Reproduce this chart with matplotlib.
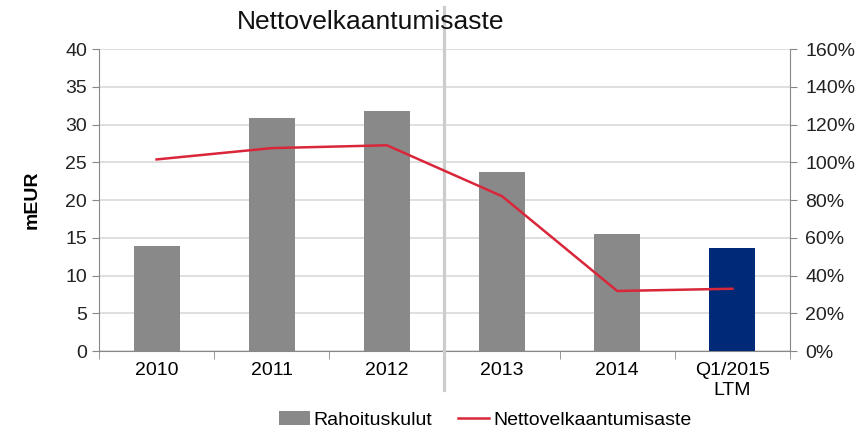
import matplotlib
matplotlib.use("Agg")
import matplotlib.pyplot as plt
import numpy as np

plt.rcParams['font.family'] = ['Liberation Sans', 'DejaVu Sans']

# data
categories = ['2010', '2011', '2012', '2013', '2014', 'Q1/2015\nLTM']
rahoituskulut = [13.9, 30.9, 31.8, 23.7, 15.5, 13.6]          # mEUR
nettovelka = [101.5, 107.5, 109.0, 82.0, 31.8, 33.0]          # %
bar_colors = ['#898989'] * 5 + ['#002A78']

fig = plt.figure(figsize=(8.63, 4.30), dpi=100)
ax = fig.add_axes([0.1147, 0.1837, 0.8007, 0.7023])
x = np.arange(len(categories))

ax.bar(x, rahoituskulut, width=0.4, color=bar_colors, zorder=3, label='Rahoituskulut')
ax.set_xlim(-0.5, len(categories) - 0.5)
ax.set_ylim(0, 40)
ax.set_yticks(np.arange(0, 41, 5))
ax.set_ylabel('mEUR', fontsize=14, fontweight='bold', labelpad=18)
ax.grid(axis='y', color='#d9d9d9', linewidth=1.2, zorder=0)

# category labels in the middle, tick marks on the boundaries
ax.set_xticks(x)
ax.set_xticklabels(categories, fontsize=14)
ax.tick_params(axis='x', which='major', length=0, pad=8)
ax.set_xticks(np.arange(-0.5, len(categories), 1), minor=True)
ax.tick_params(axis='x', which='minor', length=6, color='#888888', direction='out')
ax.tick_params(axis='y', labelsize=14, length=5, color='#888888')
for lbl in ax.get_yticklabels():
    lbl.set_color('#222222')

for side in ['top', 'right']:
    ax.spines[side].set_visible(False)
for side in ['left', 'bottom']:
    ax.spines[side].set_color('#888888')

ax2 = ax.twinx()
ax2.plot(x, nettovelka, color='#D9263A', linewidth=1.8, zorder=4, label='Nettovelkaantumisaste')
ax2.set_ylim(0, 160)
ax2.set_yticks(np.arange(0, 161, 20))
ax2.set_yticklabels([f'{v}%' for v in range(0, 161, 20)])
ax2.tick_params(axis='y', labelsize=14, length=5, color='#888888', pad=6)
for lbl in ax2.get_yticklabels():
    lbl.set_color('#222222')
for side in ['top', 'left', 'bottom']:
    ax2.spines[side].set_visible(False)
ax2.spines['right'].set_color('#888888')

# separator between actuals
ax.axvline(2.5, ymin=-0.13, ymax=1.14, color='#cccccc', linewidth=2.3, clip_on=False, zorder=5)

fig.text(0.429, 0.949, 'Nettovelkaantumisaste', fontsize=19, ha='center', va='center', color='#111111')

h1, l1 = ax.get_legend_handles_labels()
h2, l2 = ax2.get_legend_handles_labels()
fig.legend(h1 + h2, l1 + l2, loc='center', bbox_to_anchor=(0.562, 0.023), ncol=2,
           frameon=False, fontsize=14, handlelength=1.6, handletextpad=0.2, columnspacing=1.3)

fig.savefig('out.png', dpi=100)
